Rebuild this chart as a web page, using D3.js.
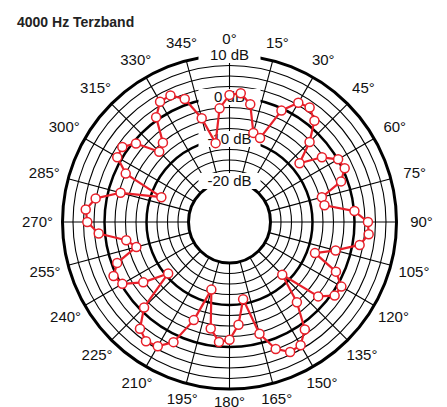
<!DOCTYPE html>
<html>
<head>
<meta charset="utf-8">
<script src="https://cdn.jsdelivr.net/npm/d3@7/dist/d3.min.js"></script>
<style>
  body { margin: 0; background: #fff; }
  text { font-family: "Liberation Sans", Arial, sans-serif; }
</style>
</head>
<body>
<div id="chart"></div>
<script>
var title = "4000 Hz Terzband"

// measured angle (deg, clockwise from top)
var angles = [0, 5, 10, 15, 20, 25, 30, 35, 40, 45, 50, 55, 60, 65, 70, 75, 80, 85,
  90, 95, 100, 105, 110, 115, 120, 125, 130, 135, 140, 145, 150, 155, 160, 165, 170, 175,
  180, 185, 190, 195, 200, 205, 210, 215, 220, 225, 230, 235, 240, 245, 250, 255, 260, 265,
  270, 275, 280, 285, 290, 295, 300, 305, 310, 315, 320, 325, 330, 335, 340, 345, 350, 355]

// level in dB
var levels = [0.5, 1.0, -1.3, -7.8, -8.5, -0.5, 3.0, 3.5, 1.7, -2.8, -8.0, -2.9, 0.1, 0.5, -1.5, -7.0, -6.8, 0.1,
  3.2, 3.5, 1.7, -3.6, -8.1, -1.8, 1.0, 0.8, -2.2, -12.0, -4.8, 1.5, 4.1, 4.4, 2.4, -2.2, -11.1, -5.2,
  -1.7, -1.1, -4.0, -13.1, -4.9, 1.8, 4.4, 4.9, 3.4, -1.0, -10.7, -4.7, -0.3, 0.7, -1.3, -6.8, -4.8, 1.5,
  4.1, 4.6, 2.6, -2.9, -12.5, -2.5, 1.1, 1.4, -0.7, -6.1, -5.1, 0.7, 3.3, 3.5, 1.4, -4.2, -10.7, -2.6]

var angleTicks = [0, 15, 30, 45, 60, 75, 90, 105, 120, 135, 150, 165, 180,
  195, 210, 225, 240, 255, 270, 285, 300, 315, 330, 345]
var ringTicks = [-20, -17.5, -15, -12.5, -10, -7.5, -5, -2.5, 0, 2.5, 5, 7.5, 10]
var majorRings = [-20, -10, 0, 10]
var ringLabels = ["10 dB", "0 dB", "-10 dB", "-20 dB"]
var ringLabelValues = [10, 0, -10, -20]

var width = 447, height = 407
var cx = 229.5, cy = 222
var r0 = 41, r1 = 167
var red = "#e8202a"

var svg = d3.select("#chart").append("svg")
  .attr("width", width)
  .attr("height", height)

var r = d3.scaleLinear().domain([-20, 10]).range([r0, r1])
var a = d3.scaleLinear().domain([0, 360]).range([0, 2 * Math.PI])

function px(deg, rad) { return cx + rad * Math.sin(a(deg)) }
function py(deg, rad) { return cy - rad * Math.cos(a(deg)) }

// label distance: a bit wider left/right, a bit tighter at the bottom
function labelR(d) {
  var s = Math.abs(Math.sin(a(d))), c = Math.cos(a(d))
  return 183 + 9 * s - 3 * Math.max(0, -c)
}

var grid = svg.append("g")

// rings
grid.selectAll("circle.ring")
  .data(ringTicks)
  .enter().append("circle")
    .attr("class", "ring")
    .attr("cx", cx)
    .attr("cy", cy)
    .attr("r", function (d) { return r(d) })
    .attr("fill", "none")
    .attr("stroke", "#000")
    .attr("stroke-width", function (d) {
      if (d == -20 || d == 10) return 3
      return majorRings.indexOf(d) >= 0 ? 2.5 : 1.1
    })

// spokes
grid.selectAll("line.spoke")
  .data(angleTicks)
  .enter().append("line")
    .attr("class", "spoke")
    .attr("x1", function (d) { return px(d, r0) })
    .attr("y1", function (d) { return py(d, r0) })
    .attr("x2", function (d) { return px(d, r1) })
    .attr("y2", function (d) { return py(d, r1) })
    .attr("stroke", "#000")
    .attr("stroke-width", 1.1)

// angle labels
svg.append("g").selectAll("text")
  .data(angleTicks)
  .enter().append("text")
    .attr("x", function (d) { return px(d, labelR(d)) })
    .attr("y", function (d) { return py(d, labelR(d)) })
    .attr("dy", "0.36em")
    .attr("text-anchor", "middle")
    .attr("font-size", 15)
    .attr("fill", "#111")
    .text(function (d) { return d + "\u00b0" })

// dB labels on the 0 deg axis, with white boxes
var lab = svg.append("g").selectAll("g")
  .data(ringLabelValues)
  .enter().append("g")
lab.append("rect")
  .attr("x", cx - 31)
  .attr("y", function (d) { return cy - r(d) - 8 })
  .attr("width", 62)
  .attr("height", 16)
  .attr("fill", "#fff")
lab.append("text")
  .attr("x", cx)
  .attr("y", function (d) { return cy - r(d) })
  .attr("dy", "0.36em")
  .attr("text-anchor", "middle")
  .attr("font-size", 15)
  .attr("fill", "#111")
  .text(function (d, i) { return ringLabels[i] })

// data
var pts = angles.map(function (d, i) { return [px(d, r(levels[i])), py(d, r(levels[i]))] })

svg.append("path")
  .attr("d", d3.line().curve(d3.curveLinearClosed)(pts))
  .attr("fill", "none")
  .attr("stroke", red)
  .attr("stroke-width", 2.2)
  .attr("stroke-linejoin", "round")

svg.append("g").selectAll("circle")
  .data(pts)
  .enter().append("circle")
    .attr("cx", function (d) { return d[0] })
    .attr("cy", function (d) { return d[1] })
    .attr("r", 4.5)
    .attr("fill", "#fff")
    .attr("stroke", red)
    .attr("stroke-width", 1.5)

// title
svg.append("text")
  .attr("x", 17)
  .attr("y", 27)
  .attr("font-family", "'Open Sans', sans-serif")
  .attr("font-weight", 600)
  .attr("font-size", 14)
  .attr("fill", "#222")
  .text(title)
</script>
</body>
</html>
